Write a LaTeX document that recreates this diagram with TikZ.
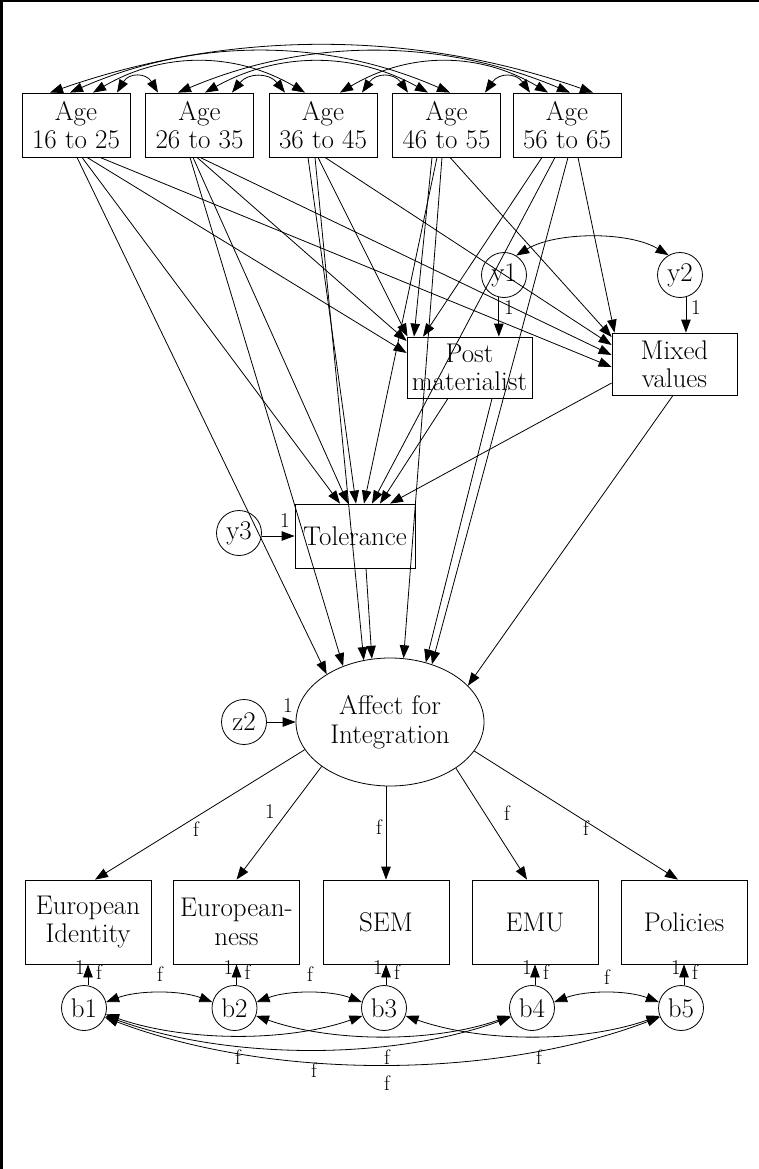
\documentclass[tikz,border=0pt]{standalone}
\usepackage{fontspec}
\usetikzlibrary{arrows.meta,shapes.geometric,calc}
\newcommand\dgfont{\fontsize{27}{28.5}\selectfont}
\newcommand\lblfont{\fontsize{21}{23}\selectfont}
\begin{document}
\begin{tikzpicture}[x=1pt,y=-1pt,line width=0.8pt,
  >={Triangle[length=13pt,width=9.5pt]},
  box/.style={draw,rectangle,inner sep=0pt,align=center,font=\dgfont},
  agebox/.style={box,minimum width=108pt,minimum height=64pt},
  midbox/.style={box,minimum width=125pt,minimum height=61pt},
  indbox/.style={box,minimum width=126pt,minimum height=84pt},
  circ/.style={draw,circle,minimum size=45pt,inner sep=0pt,font=\dgfont},
  lbl/.style={inner sep=0pt,font=\lblfont}]
\useasboundingbox (0,0) rectangle (759,1169);
\draw[line width=2.5pt] (1.25,1169) -- (1.25,1.25) -- (759,1.25);

% exogenous age groups
\node[agebox] (a1) at (76,125) {Age\\16 to 25};
\node[agebox] (a2) at (199.5,125) {Age\\26 to 35};
\node[agebox] (a3) at (323,125) {Age\\36 to 45};
\node[agebox] (a4) at (446.5,125) {Age\\46 to 55};
\node[agebox] (a5) at (567,125) {Age\\56 to 65};

% mediators
\node[midbox] (post) at (469.5,367.5) {Post\\materialist};
\node[midbox,minimum height=62pt] (mixed) at (674.5,364) {Mixed\\values};
\node[box,minimum width=120pt,minimum height=64pt] (tol) at (355,536) {Tolerance};
\node[circ] (y1) at (504,275) {y1};
\node[circ] (y2) at (680,275) {y2};
\node[circ] (y3) at (239,533) {y3};

% latent factor
\node[draw,ellipse,minimum width=188pt,minimum height=128pt,inner sep=0pt,align=center,font=\dgfont] (aff) at (390,722) {Affect for\\Integration};
\node[circ] (z2) at (244,722) {z2};

% indicators and their errors
\node[indbox] (ei) at (88,922) {European\\Identity};
\node[indbox] (en) at (236.5,922) {European-\\ness};
\node[indbox] (sem) at (386,922) {SEM};
\node[indbox] (emu) at (535,922) {EMU};
\node[indbox] (pol) at (684,922) {Policies};
\node[circ] (b1) at (84,1008) {b1};
\node[circ] (b2) at (234.5,1008) {b2};
\node[circ] (b3) at (384,1008) {b3};
\node[circ] (b4) at (532,1008) {b4};
\node[circ] (b5) at (681,1008) {b5};

% covariances among age groups
\draw[<->] ([xshift=41pt]a1.north) .. controls +(12,-20) and +(-12,-20) .. ([xshift=-41.5pt]a2.north);
\draw[<->] ([xshift=17pt]a1.north) .. controls +(70,-41) and +(-70,-41) .. ([xshift=-18pt]a3.north);
\draw[<->] ([xshift=-6pt]a1.north) .. controls +(125,-55) and +(-125,-55) .. ([xshift=3.5pt]a4.north);
\draw[<->] ([xshift=-26pt]a1.north) .. controls +(180,-63) and +(-180,-63) .. ([xshift=26pt]a5.north);
\draw[<->] ([xshift=32.5pt]a2.north) .. controls +(16,-20) and +(-16,-20) .. ([xshift=-38pt]a3.north);
\draw[<->] ([xshift=5.5pt]a2.north) .. controls +(74,-41) and +(-74,-41) .. ([xshift=-18.5pt]a4.north);
\draw[<->] ([xshift=-21.5pt]a2.north) .. controls +(130,-55) and +(-130,-55) .. ([xshift=3pt]a5.north);
\draw[<->] ([xshift=39pt]a3.north) .. controls +(14,-20) and +(-14,-20) .. ([xshift=-38.5pt]a4.north);
\draw[<->] ([xshift=17pt]a3.north) .. controls +(69,-41) and +(-69,-41) .. ([xshift=-19pt]a5.north);
\draw[<->] ([xshift=38.5pt]a4.north) .. controls +(14,-20) and +(-14,-20) .. ([xshift=-37pt]a5.north);

% paths from age groups
\draw[->] ([xshift=1pt]a1.south) -- (aff.143);
\draw[->] ([xshift=6pt]a1.south) -- ([xshift=-15pt]tol.north);
\draw[->] ([xshift=11pt]a1.south) -- ([yshift=14.5pt]post.west);
\draw[->] ([xshift=24pt]a1.south) -- ([yshift=-3pt]mixed.west);

\draw[->] ([xshift=-9.5pt]a2.south) -- (aff.130);
\draw[->] ([xshift=-6.5pt]a2.south) -- ([xshift=-7pt]tol.north);
\draw[->] ([xshift=-2.5pt]a2.south) -- ([yshift=26.5pt]post.west);
\draw[->] ([xshift=0.5pt]a2.south) -- ([yshift=9pt]mixed.west);

\draw[->] ([xshift=-15pt]a3.south) -- ([xshift=1pt]tol.north);
\draw[->] ([xshift=-8pt]a3.south) -- (aff.113);
\draw[->] ([xshift=-5pt]a3.south) -- ([xshift=-62pt]post.north);
\draw[->] ([xshift=2pt]a3.south) -- ([yshift=19pt]mixed.west);

\draw[->] ([xshift=-14.5pt]a4.south) -- ([xshift=-55.5pt]post.north);
\draw[->] ([xshift=-9.5pt]a4.south) -- ([xshift=9pt]tol.north);
\draw[->] ([xshift=-4.5pt]a4.south) -- (aff.78);
\draw[->] ([xshift=3.5pt]a4.south) -- ([yshift=27pt]mixed.west);

\draw[->] ([xshift=-25pt]a5.south) -- ([xshift=-46.5pt]post.north);
\draw[->] ([xshift=-12pt]a5.south) -- ([xshift=17pt]tol.north);
\draw[->] ([xshift=1pt]a5.south) -- (aff.54);
\draw[->] ([xshift=11pt]a5.south) -- ([xshift=-60pt]mixed.north);

% paths among mediators
\draw[->] ([xshift=-21.5pt]post.south) -- ([xshift=25pt]tol.north);
\draw[->] ([xshift=22.5pt]post.south) -- (aff.59);
\draw[->] ([yshift=-19pt]mixed.west) -- ([xshift=35pt]tol.north);
\draw[->] ([xshift=-1.5pt]mixed.south) -- (aff.25.5);
\draw[->] ([xshift=11pt]tol.south) -- (aff.106);

% disturbances
\draw[->] (y1.257) -- (y1.257 |- post.north);
\node[lbl] (ly1) at (509,308) {1};
\draw[->] (y2.285) -- (y2.285 |- mixed.north);
\node[lbl] (ly2) at (696,308) {1};
\draw[<->] (y1.58) .. controls +(40,-24) and +(-40,-24) .. (y2.120);
\draw[->] (y3.east |- tol.west) -- (tol.west);
\node[lbl] (ly3) at (285,521) {1};
\draw[->] (z2.east) -- (aff.west);
\node[lbl] (lz2) at (288,706) {1};

% loadings
\draw[->] (aff.198.8) -- ([xshift=7pt]ei.north);
\node[lbl] (l1) at (196,829) {f};
\draw[->] (aff.213.7) -- (en.north);
\node[lbl] (l2) at (270,812) {1};
\draw[->] (aff.south -| sem.north) -- (sem.north);
\node[lbl] (l3) at (379,827) {f};
\draw[->] (aff.325.6) -- ([xshift=-8pt]emu.north);
\node[lbl] (l4) at (507,813) {f};
\draw[->] (aff.341.2) -- ([xshift=-6pt]pol.north);
\node[lbl] (l5) at (586,828) {f};

% measurement errors
\foreach \b/\i in {b1/ei,b2/en,b3/sem,b4/emu,b5/pol}{
  \draw[->] (\b.north -| \i.south) -- (\i.south);
  \node[lbl] (one\b) at ($(\i.south)+(-8,3)$) {1};
  \node[lbl] (f\b) at ($(\i.south)+(11,8)$) {f};
}

% error covariances
\draw[<->] (b1.15) .. controls +(32,-12) and +(-32,-12) .. (b2.165);
\node[lbl] (c12) at (160,974) {f};
\draw[<->] (b2.15) .. controls +(32,-12) and +(-32,-12) .. (b3.165);
\node[lbl] (c23) at (310,974) {f};
\draw[<->] (b4.15) .. controls +(32,-12) and +(-32,-12) .. (b5.165);
\node[lbl] (c45) at (607,977) {f};
\draw[<->] (b1.-16) .. controls +(77,27) and +(-77,27) .. (b3.200);
\node[lbl] (c13) at (238,1057) {f};
\draw[<->] (b2.-20) .. controls +(77,27) and +(-77,27) .. (b4.200);
\node[lbl] (c24) at (387,1057) {f};
\draw[<->] (b3.-20) .. controls +(77,27) and +(-77,27) .. (b5.200);
\node[lbl] (c35) at (539,1057) {f};
\draw[<->] (b1.-20) .. controls +(121,44) and +(-121,44) .. (b4.203);
\node[lbl] (c14) at (314,1070) {f};
\draw[<->] (b1.-24) .. controls +(166,63) and +(-166,63) .. (b5.203);
\node[lbl] (c15) at (387,1083) {f};
\end{tikzpicture}
\end{document}
